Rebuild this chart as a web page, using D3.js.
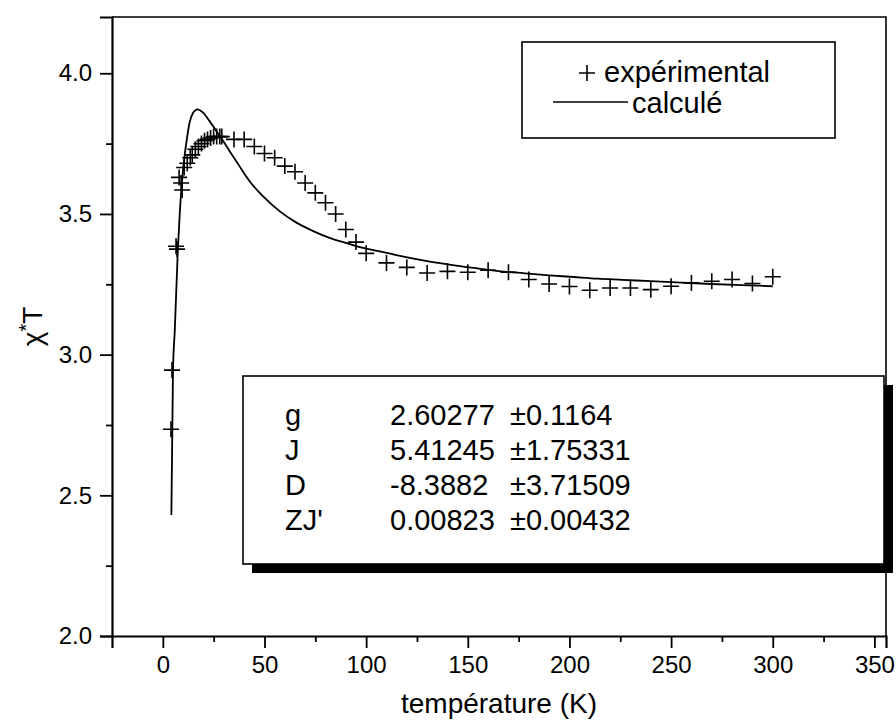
<!DOCTYPE html>
<html>
<head>
<meta charset="utf-8">
<script src="https://cdn.jsdelivr.net/npm/d3@7/dist/d3.min.js"></script>
<style>
  body { margin: 0; background: #fff; }
  svg text { font-family: "Liberation Sans", Arial, sans-serif; fill: #000; }
</style>
</head>
<body>
<div id="chart"></div>
<script>
// experimental points (temperature K, chi*T)
var expT = [4.0, 4.5, 6.5, 7.0, 8.0, 9.0, 9.5, 10.5, 12, 13.5, 14.5, 16, 17.5, 19, 20.5, 22, 23.5, 25, 26.5, 28, 29,
	35, 40, 45, 50, 55, 60, 65, 70, 75, 80, 85, 90, 95, 100,
	110, 120, 130, 140, 150, 160, 170, 180, 190, 200, 210, 220, 230, 240, 250, 260, 270, 280, 290, 300];
var expChiT = [2.735, 2.945, 3.385, 3.375, 3.63, 3.61, 3.585, 3.665, 3.68, 3.70, 3.71, 3.73, 3.74, 3.75, 3.76, 3.765, 3.77, 3.775, 3.775, 3.775, 3.775,
	3.765, 3.765, 3.74, 3.715, 3.70, 3.67, 3.65, 3.61, 3.575, 3.54, 3.50, 3.445, 3.40, 3.36,
	3.326, 3.31, 3.29, 3.296, 3.293, 3.30, 3.293, 3.267, 3.251, 3.242, 3.229, 3.237, 3.237, 3.231, 3.243, 3.255, 3.261, 3.267, 3.253, 3.277];

// fitted curve
var calcT = [4.2, 5.0, 5.9, 7.4, 8.3, 9.3, 10.5, 11.8, 13.2, 14.9, 17, 19.8, 23, 26.3, 29.6, 32.8, 37.7, 42.6, 49.2, 57.4,
	65.5, 73.7, 82, 90, 98, 106, 116, 128, 141, 153, 165, 178, 190, 202, 214, 226, 240, 255, 270, 285, 300];
var calcChiT = [2.43, 2.943, 3.089, 3.374, 3.498, 3.605, 3.694, 3.765, 3.826, 3.86, 3.872, 3.86, 3.83, 3.795, 3.76, 3.724, 3.67, 3.617, 3.563, 3.51,
	3.47, 3.44, 3.415, 3.397, 3.38, 3.368, 3.352, 3.335, 3.32, 3.308, 3.297, 3.289, 3.282, 3.276, 3.27, 3.266, 3.261, 3.256, 3.251, 3.247, 3.243];

var xTicks = [0, 50, 100, 150, 200, 250, 300, 350];
var xMinor = [25, 75, 125, 175, 225, 275, 325];
var yTicks = [2.0, 2.5, 3.0, 3.5, 4.0];
var yMinor = [2.25, 2.75, 3.25, 3.75];

var paramNames = ["g", "J", "D", "ZJ'"];
var paramValues = ["2.60277", "5.41245", "-8.3882", "0.00823"];
var paramErrors = ["±0.1164", "±1.75331", "±3.71509", "±0.00432"];

var legendLabels = ["expérimental", "calculé"];

var W = 896, H = 725;
var plot = {left: 112, top: 17, right: 886, bottom: 636};

var svg = d3.select("#chart").append("svg")
	.attr("width", W)
	.attr("height", H);

var xScale = d3.scaleLinear()
	.domain([-25, 355.7])
	.range([plot.left, plot.right]);
var yScale = d3.scaleLinear()
	.domain([2.0, 4.2])
	.range([plot.bottom, plot.top]);

// frame (top and right)
svg.append("path")
	.attr("d", "M" + plot.left + "," + plot.top + "H" + plot.right + "V" + plot.bottom)
	.attr("fill", "none")
	.attr("stroke", "#000")
	.attr("stroke-width", 1.6);

// x axis
svg.append("g")
	.attr("transform", "translate(0," + plot.bottom + ")")
	.call(d3.axisBottom(xScale).tickValues(xTicks).tickSize(12).tickPadding(8).tickFormat(d3.format("d")));
svg.append("g")
	.attr("transform", "translate(0," + plot.bottom + ")")
	.call(d3.axisBottom(xScale).tickValues(xMinor).tickSize(6).tickFormat(""))
	.select(".domain").remove();

// y axis
svg.append("g")
	.attr("transform", "translate(" + plot.left + ",0)")
	.call(d3.axisLeft(yScale).tickValues(yTicks).tickSize(12).tickPadding(8).tickFormat(d3.format(".1f")));
svg.append("g")
	.attr("transform", "translate(" + plot.left + ",0)")
	.call(d3.axisLeft(yScale).tickValues(yMinor).tickSize(6).tickFormat(""))
	.select(".domain").remove();

svg.selectAll(".domain").attr("stroke", "#000").attr("stroke-width", 2.2);
svg.selectAll(".tick line").attr("stroke", "#000").attr("stroke-width", 1.8);
svg.selectAll(".tick text").style("font-size", "24px").style("font-family", "Liberation Sans, Arial, sans-serif");

// axis titles
svg.append("text")
	.attr("x", (plot.left + plot.right) / 2)
	.attr("y", 713)
	.attr("text-anchor", "middle")
	.style("font-size", "28px")
	.text("température (K)");

var ylab = svg.append("text")
	.attr("transform", "translate(42," + ((plot.top + plot.bottom) / 2) + ") rotate(-90)")
	.attr("text-anchor", "middle")
	.style("font-size", "28px");
ylab.append("tspan").text("χ");
ylab.append("tspan").attr("dy", -9).style("font-size", "20px").text("*");
ylab.append("tspan").attr("dy", 9).text("T");

// calculated curve
var line = d3.line()
	.x(function(d, i) { return xScale(calcT[i]); })
	.y(function(d) { return yScale(d); })
	.curve(d3.curveMonotoneX);
svg.append("path")
	.datum(calcChiT)
	.attr("d", line)
	.attr("fill", "none")
	.attr("stroke", "#000")
	.attr("stroke-width", 1.8);

// experimental crosses
svg.selectAll(".pt")
	.data(expChiT)
	.enter()
	.append("path")
	.attr("class", "pt")
	.attr("transform", function(d, i) { return "translate(" + xScale(expT[i]) + "," + yScale(d) + ")"; })
	.attr("d", "M-8,0H8M0,-8V8")
	.attr("stroke", "#000")
	.attr("stroke-width", 1.6)
	.attr("fill", "none");

// legend
var leg = svg.append("g");
leg.append("rect")
	.attr("x", 522).attr("y", 42)
	.attr("width", 313).attr("height", 96)
	.attr("fill", "#fff")
	.attr("stroke", "#000")
	.attr("stroke-width", 1.6);
leg.append("path")
	.attr("d", "M579,73H595M587,65V81")
	.attr("stroke", "#000")
	.attr("stroke-width", 1.6);
leg.append("text")
	.attr("x", 604).attr("y", 82)
	.style("font-size", "29px")
	.text(legendLabels[0]);
leg.append("line")
	.attr("x1", 553).attr("x2", 628)
	.attr("y1", 102).attr("y2", 102)
	.attr("stroke", "#000")
	.attr("stroke-width", 1.6);
leg.append("text")
	.attr("x", 632).attr("y", 113)
	.style("font-size", "29px")
	.text(legendLabels[1]);

// parameter box with shadow
var box = {x: 243, y: 376, w: 641, h: 188};
svg.append("rect")
	.attr("x", box.x + 9).attr("y", box.y + 9)
	.attr("width", box.w).attr("height", box.h)
	.attr("fill", "#000");
svg.append("rect")
	.attr("x", box.x).attr("y", box.y)
	.attr("width", box.w).attr("height", box.h)
	.attr("fill", "#fff")
	.attr("stroke", "#000")
	.attr("stroke-width", 1.6);

var rows = svg.selectAll(".prow")
	.data(paramNames)
	.enter()
	.append("g")
	.attr("class", "prow")
	.attr("transform", function(d, i) { return "translate(0," + (425 + i * 35) + ")"; });
rows.append("text").attr("x", 285).style("font-size", "29px").text(function(d) { return d; });
rows.append("text").attr("x", 390).style("font-size", "29px").text(function(d, i) { return paramValues[i]; });
rows.append("text").attr("x", 510).style("font-size", "29px").text(function(d, i) { return paramErrors[i]; });
</script>
</body>
</html>
